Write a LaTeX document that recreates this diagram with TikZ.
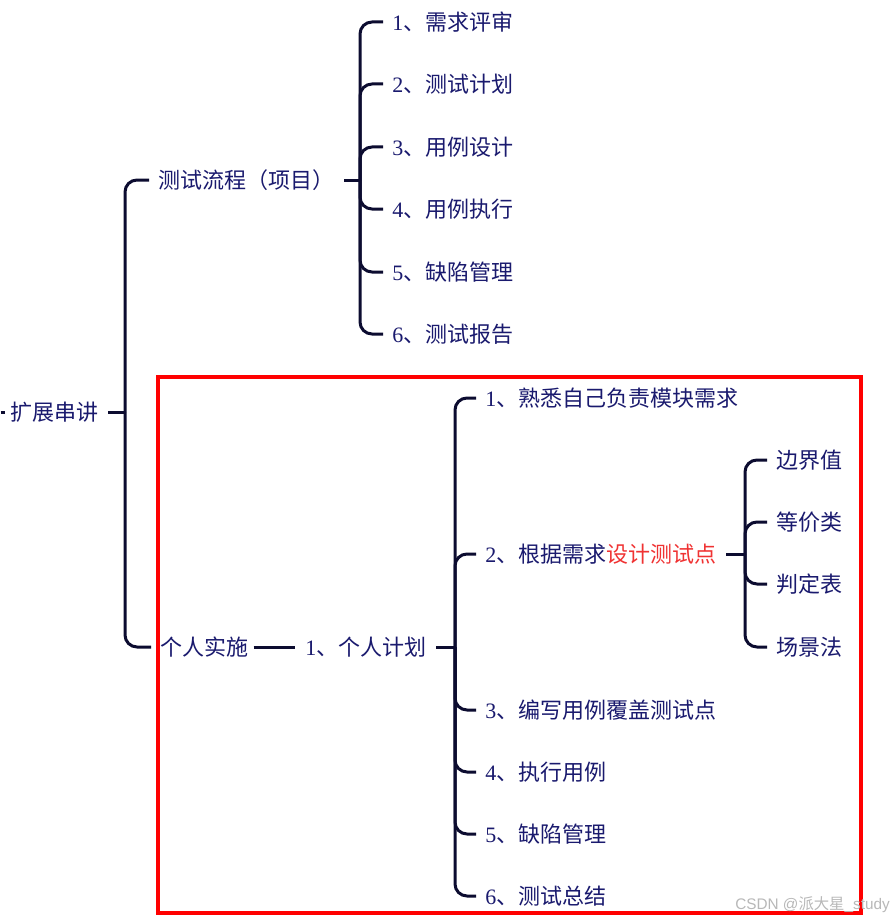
\documentclass[tikz,border=0pt]{standalone}
\usepackage{fontspec}
\setmainfont{Liberation Serif}
\newfontfamily\cjk{Noto Sans CJK SC}
\newfontfamily\wmfont{Liberation Sans}
\definecolor{txtc}{RGB}{26,26,110}
\definecolor{linec}{RGB}{12,12,48}
\definecolor{redtxt}{RGB}{240,50,50}
\definecolor{boxred}{RGB}{255,0,0}
\newcommand\numlbl[2]{{\rmfamily #1}{\cjk 、#2}}
\tikzset{
  lbl/.style={anchor=west, inner xsep=6.75pt, inner ysep=0pt,
    text height=13.7pt, text depth=1.15pt,
    font=\cjk\fontsize{16.5}{20}\selectfont, text=txtc},
  conn/.style={draw=linec, line width=2.25pt, rounded corners=9pt},
  stub/.style={draw=linec, line width=2.25pt, shorten <=0.5pt},
}
\begin{document}
\begin{tikzpicture}[x=0.75pt,y=-0.75pt]
\useasboundingbox[fill=white] (0,0) rectangle (894,920);

% red frame
\draw[boxred, line width=2.8pt] (158,377) rectangle (861,913);

% nodes
\node[lbl] (root) at (1,412) {扩展串讲};
\node[lbl] (p1) at (149,180) {测试流程（项目）};
\node[lbl] (p2) at (151,647) {个人实施};

\node[lbl] (a1) at (383,22)  {\numlbl{1}{需求评审}};
\node[lbl] (a2) at (383,84)  {\numlbl{2}{测试计划}};
\node[lbl] (a3) at (383,147) {\numlbl{3}{用例设计}};
\node[lbl] (a4) at (383,209) {\numlbl{4}{用例执行}};
\node[lbl] (a5) at (383,272) {\numlbl{5}{缺陷管理}};
\node[lbl] (a6) at (383,334) {\numlbl{6}{测试报告}};

\node[lbl] (q) at (296,647) {\numlbl{1}{个人计划}};

\node[lbl] (b1) at (476,398) {\numlbl{1}{熟悉自己负责模块需求}};
\node[lbl] (b2) at (476,554) {\numlbl{2}{根据需求\textcolor{redtxt}{设计测试点}}};
\node[lbl] (b3) at (476,710) {\numlbl{3}{编写用例覆盖测试点}};
\node[lbl] (b4) at (476,772) {\numlbl{4}{执行用例}};
\node[lbl] (b5) at (476,834) {\numlbl{5}{缺陷管理}};
\node[lbl] (b6) at (476,896) {\numlbl{6}{测试总结}};

\node[lbl] (c1) at (767,460) {边界值};
\node[lbl] (c2) at (767,522) {等价类};
\node[lbl] (c3) at (767,584) {判定表};
\node[lbl] (c4) at (767,647) {场景法};

% junctions
\coordinate (J0) at (125,412);
\coordinate (J1) at (360,180);
\coordinate (J2) at (455,647);
\coordinate (J3) at (745,554);
\coordinate (o1) at (0,412);
\coordinate (o2) at (5,412);

% connectors
\draw[stub] (o1) -- (o2);
\draw[stub] (root.east) -- (J0);
\foreach \c in {p1,p2} \draw[conn] (J0) |- (\c.west);
\draw[stub] (p1.east) -- (J1);
\foreach \c in {a1,a2,a3,a4,a5,a6} \draw[conn] (J1) |- (\c.west);
\draw[stub, shorten <=-3pt, shorten >=1pt] (p2.east) -- (q.west);
\draw[stub] (q.east) -- (J2);
\foreach \c in {b1,b2,b3,b4,b5,b6} \draw[conn] (J2) |- (\c.west);
\draw[stub] (b2.east) -- (J3);
\foreach \c in {c1,c2,c3,c4} \draw[conn] (J3) |- (\c.west);

% watermark
\node[anchor=east, inner sep=0pt, text=black!28, font=\fontsize{11.5}{14}\selectfont] (wm) at (890,905)
  {{\wmfont CSDN @}{\cjk 派大星}{\wmfont \_study}};
\end{tikzpicture}
\end{document}
